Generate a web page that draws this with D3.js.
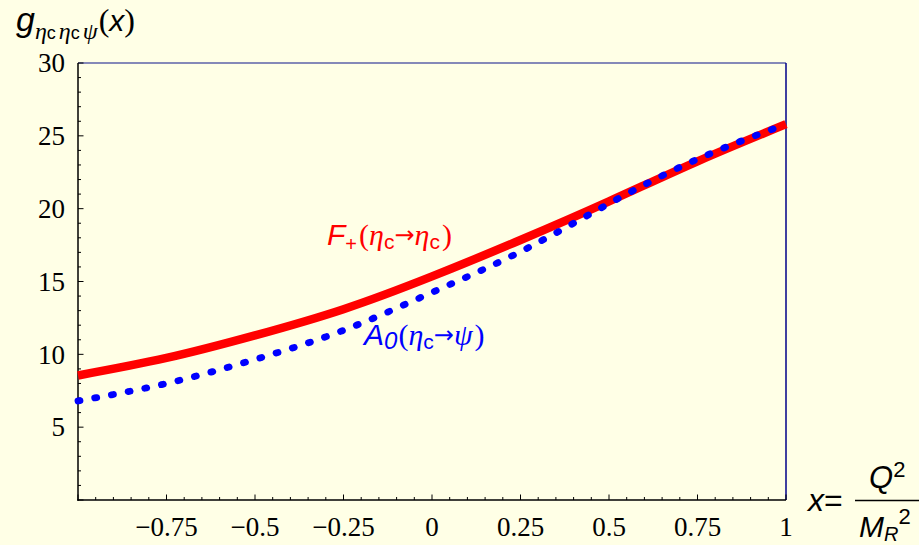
<!DOCTYPE html>
<html>
<head>
<meta charset="utf-8">
<script src="https://cdn.jsdelivr.net/npm/d3@7"></script>
<style>
  html, body { margin: 0; padding: 0; background: #ffffe6; }
  svg { display: block; }
  .serif { font-family: "Liberation Serif", "Times New Roman", serif; }
  .greek { font-family: "Liberation Serif", "Times New Roman", serif; font-style: italic; }
  .sans { font-family: "Liberation Sans", Arial, sans-serif; }
  .arrow { font-family: "DejaVu Sans", sans-serif; }
</style>
</head>
<body>
<script>
// values
const xs = [-1, -0.75, -0.5, -0.25, 0, 0.25, 0.5, 0.75, 1]
const fPlus = [8.55, 9.75, 11.3, 13.1, 15.35, 17.85, 20.5, 23.25, 25.8]
const aZero = [6.8, 8.0, 9.65, 11.65, 14.25, 17.05, 20.35, 23.4, 25.8]
const xTicks = [-0.75, -0.5, -0.25, 0, 0.25, 0.5, 0.75, 1]
const xTickLabels = ['\u22120.75', '\u22120.5', '\u22120.25', '0', '0.25', '0.5', '0.75', '1']
const yTicks = [5, 10, 15, 20, 25, 30]

const width = 919
const height = 545
const plotLeft = 78, plotRight = 786, plotTop = 63, plotBottom = 500

const svg = d3.select('body').append('svg')
    .attr('width', width)
    .attr('height', height)

svg.append('rect').attr('width', width).attr('height', height).attr('fill', '#ffffe6')

let x = d3.scaleLinear().domain([-1, 1]).range([plotLeft, plotRight])
let y = d3.scaleLinear().domain([0, 30]).range([plotBottom, plotTop])

// frame: top and right in blue
svg.append('line')
    .attr('x1', plotLeft).attr('x2', plotRight).attr('y1', plotTop).attr('y2', plotTop)
    .attr('stroke', '#5c62a8').attr('stroke-width', 1.5)
svg.append('line')
    .attr('x1', plotRight).attr('x2', plotRight).attr('y1', plotTop).attr('y2', plotBottom)
    .attr('stroke', '#000088').attr('stroke-width', 1.5)

// minor ticks
let xMinor = d3.range(-20, 21).map(i => i * 0.05)
let yMinor = d3.range(0, 31)

svg.append('g').selectAll('line')
    .data(xMinor)
    .join('line')
    .attr('x1', d => x(d)).attr('x2', d => x(d))
    .attr('y1', plotBottom).attr('y2', d => plotBottom - (Math.abs(d * 4 - Math.round(d * 4)) < 1e-6 ? 5.5 : 3))
    .attr('stroke', '#000').attr('stroke-width', 1)

svg.append('g').selectAll('line')
    .data(yMinor)
    .join('line')
    .attr('y1', d => y(d)).attr('y2', d => y(d))
    .attr('x1', plotLeft).attr('x2', d => plotLeft + (d % 5 === 0 ? 5.5 : 3))
    .attr('stroke', '#000').attr('stroke-width', 1)

// left and bottom axis lines
svg.append('line')
    .attr('x1', plotLeft).attr('x2', plotLeft).attr('y1', plotTop).attr('y2', plotBottom + 0.75)
    .attr('stroke', '#000').attr('stroke-width', 1.5)
svg.append('line')
    .attr('x1', plotLeft - 0.75).attr('x2', plotRight).attr('y1', plotBottom).attr('y2', plotBottom)
    .attr('stroke', '#000').attr('stroke-width', 1.5)

// tick labels
svg.append('g').selectAll('text')
    .data(xTicks)
    .join('text')
    .attr('class', 'serif')
    .attr('x', d => x(d))
    .attr('y', 536)
    .attr('text-anchor', 'middle')
    .attr('font-size', 27)
    .text((d, i) => xTickLabels[i])

svg.append('g').selectAll('text')
    .data(yTicks)
    .join('text')
    .attr('class', 'serif')
    .attr('x', 65)
    .attr('y', d => y(d))
    .attr('dy', '0.34em')
    .attr('text-anchor', 'end')
    .attr('font-size', 27)
    .text(d => d)

// curves
let line = d3.line()
    .x((d, i) => x(xs[i]))
    .y(d => y(d))
    .curve(d3.curveNatural)

svg.append('path')
    .attr('d', line(fPlus))
    .attr('fill', 'none')
    .attr('stroke', '#ff0000')
    .attr('stroke-width', 8.5)

svg.append('path')
    .attr('d', line(aZero))
    .attr('fill', 'none')
    .attr('stroke', '#0000ff')
    .attr('stroke-width', 6.8)
    .attr('stroke-linecap', 'round')
    .attr('stroke-dasharray', '2,15')

// y axis title
let yt = svg.append('text').attr('x', 16).attr('y', 31)
yt.append('tspan').attr('class', 'sans').attr('font-style', 'italic').attr('font-size', 34).text('g')
yt.append('tspan').attr('class', 'greek').attr('font-size', 24).attr('dy', 8).text('\u03b7')
yt.append('tspan').attr('class', 'sans').attr('font-size', 18).text('c')
yt.append('tspan').attr('class', 'greek').attr('font-size', 24).attr('dx', 3).text('\u03b7')
yt.append('tspan').attr('class', 'sans').attr('font-size', 18).text('c')
yt.append('tspan').attr('class', 'greek').attr('font-size', 24).attr('dx', 3).text('\u03c8')
yt.append('tspan').attr('class', 'serif').attr('font-size', 32).attr('dy', -8).attr('dx', 1).text('(')
yt.append('tspan').attr('class', 'sans').attr('font-style', 'italic').attr('font-size', 30).text('x')
yt.append('tspan').attr('class', 'serif').attr('font-size', 32).text(')')

// curve labels
let fl = svg.append('text').attr('x', 327).attr('y', 245).attr('fill', '#ff0000')
fl.append('tspan').attr('class', 'sans').attr('font-style', 'italic').attr('font-size', 30).text('F')
fl.append('tspan').attr('class', 'sans').attr('font-size', 20).attr('dy', 6).text('+')
fl.append('tspan').attr('class', 'serif').attr('font-size', 30).attr('dy', -6).attr('dx', 2).text('(')
fl.append('tspan').attr('class', 'greek').attr('font-size', 30).text('\u03b7')
fl.append('tspan').attr('class', 'sans').attr('font-size', 21).attr('dy', 4).text('c')
fl.append('tspan').attr('class', 'arrow').attr('font-size', 24).attr('dy', -6).text('\u2192')
fl.append('tspan').attr('class', 'greek').attr('font-size', 30).attr('dy', 2).text('\u03b7')
fl.append('tspan').attr('class', 'sans').attr('font-size', 21).attr('dy', 4).text('c')
fl.append('tspan').attr('class', 'serif').attr('font-size', 30).attr('dy', -4).attr('dx', 2).text(')')

let al = svg.append('text').attr('x', 364).attr('y', 345).attr('fill', '#0000ff')
al.append('tspan').attr('class', 'sans').attr('font-style', 'italic').attr('font-size', 30).text('A')
al.append('tspan').attr('class', 'sans').attr('font-style', 'italic').attr('font-size', 24).attr('dy', 4).text('0')
al.append('tspan').attr('class', 'serif').attr('font-size', 30).attr('dy', -4).attr('dx', 1).text('(')
al.append('tspan').attr('class', 'greek').attr('font-size', 30).text('\u03b7')
al.append('tspan').attr('class', 'sans').attr('font-size', 21).attr('dy', 4).text('c')
al.append('tspan').attr('class', 'arrow').attr('font-size', 24).attr('dy', -6).text('\u2192')
al.append('tspan').attr('class', 'greek').attr('font-size', 30).attr('dy', 2).text('\u03c8')
al.append('tspan').attr('class', 'serif').attr('font-size', 30).attr('dx', 2).text(')')

// x axis title
let xl = svg.append('text').attr('x', 808).attr('y', 511)
xl.append('tspan').attr('class', 'sans').attr('font-style', 'italic').attr('font-size', 32).text('x')
xl.append('tspan').attr('class', 'sans').attr('font-size', 32).text('=')
svg.append('line')
    .attr('x1', 855).attr('x2', 919).attr('y1', 500.5).attr('y2', 500.5)
    .attr('stroke', '#000').attr('stroke-width', 1.3)
let qt = svg.append('text').attr('x', 869).attr('y', 488)
qt.append('tspan').attr('class', 'sans').attr('font-style', 'italic').attr('font-size', 31).text('Q')
qt.append('tspan').attr('class', 'sans').attr('font-size', 22).attr('dy', -11).text('2')
let mt = svg.append('text').attr('x', 859).attr('y', 537)
mt.append('tspan').attr('class', 'sans').attr('font-style', 'italic').attr('font-size', 30).text('M')
mt.append('tspan').attr('class', 'sans').attr('font-style', 'italic').attr('font-size', 20).attr('dy', 4).text('R')
mt.append('tspan').attr('class', 'sans').attr('font-size', 22).attr('dy', -17).text('2')
</script>
</body>
</html>
